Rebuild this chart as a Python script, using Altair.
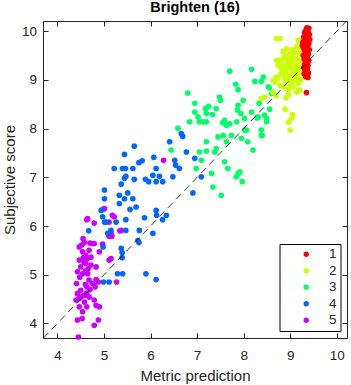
import altair as alt
import pandas as pd

# ---- data (Metric prediction, Subjective score) ----
group1 = [(9.36,10.07),(9.40,10.06),(9.34,10.03),(9.38,10.00),(9.31,9.97),(9.37,9.95),(9.41,9.93),
          (9.33,9.92),(9.36,9.90),(9.29,9.88),(9.39,9.87),(9.35,9.85),(9.42,9.83),(9.30,9.82),
          (9.33,9.80),(9.37,9.78),(9.27,9.77),(9.40,9.75),(9.32,9.74),(9.36,9.72),(9.26,9.70),
          (9.38,9.68),(9.34,9.66),(9.29,9.65),(9.41,9.62),(9.31,9.60),(9.36,9.58),(9.33,9.55),
          (9.39,9.53),(9.28,9.50),(9.35,9.48),(9.37,9.45),(9.30,9.43),(9.40,9.40),(9.33,9.38),
          (9.36,9.35),(9.31,9.32),(9.38,9.30),(9.34,9.27),(9.29,9.25),(9.37,9.22),(9.32,9.20),
          (9.35,9.17),(9.39,9.14),(9.30,9.12),(9.36,9.10),(9.33,9.07),(9.38,9.05),(9.35,8.74)]

group2 = [(8.71,9.85),(8.78,9.85),(9.17,9.82),(9.20,9.78),(9.14,9.68),(8.92,9.64),(9.05,9.62),
          (8.85,9.58),(9.00,9.54),(9.10,9.56),(8.89,9.47),(9.06,9.47),(8.95,9.50),(8.78,9.40),
          (8.96,9.40),(9.14,9.44),(8.71,9.40),(8.85,9.43),(9.05,9.38),(8.74,9.30),(8.85,9.30),
          (9.03,9.34),(9.17,9.30),(8.94,9.32),(9.22,9.40),(8.92,9.23),(9.06,9.20),(8.82,9.22),
          (9.15,9.20),(8.81,9.13),(9.00,9.10),(9.14,9.06),(8.90,9.16),(8.71,9.06),(8.89,8.99),
          (9.03,8.96),(9.17,8.93),(8.97,9.03),(8.67,8.96),(8.74,9.03),(8.63,8.99),(8.78,8.89),
          (9.06,8.86),(8.85,8.86),(9.00,8.87),(9.17,8.79),(8.96,8.79),(8.38,8.62),(8.45,8.65),
          (8.63,8.75),(8.70,8.67),(8.91,8.63),(8.96,8.69),(9.14,8.75),(9.21,8.79),(8.89,8.40),
          (9.05,8.29),(9.03,8.21),(9.00,7.97),(8.96,8.13),(9.22,9.55),(9.25,9.65),(9.20,9.15),
          (9.23,9.00),(9.10,9.28),(8.99,9.26),(9.12,9.00),(8.88,9.08),(9.08,9.12)]

group3 = [(7.70,9.18),(8.17,9.22),(8.24,8.97),(8.42,9.06),(8.38,8.97),(7.83,8.91),(7.88,8.80),
          (6.80,8.73),(7.48,8.65),(7.50,8.58),(7.99,8.58),(6.95,8.52),(7.88,8.48),(8.33,8.52),
          (8.55,8.84),(8.56,8.40),(7.18,8.41),(7.25,8.46),(7.41,8.41),(7.20,8.31),(7.33,8.29),
          (6.95,8.34),(7.02,8.24),(7.87,8.38),(7.94,8.31),(8.17,8.34),(8.02,8.21),(8.31,8.24),
          (8.49,8.21),(8.45,8.28),(8.29,8.22),(7.13,8.14),(7.59,8.17),(7.63,8.07),(6.59,8.01),
          (6.84,8.14),(7.05,8.14),(7.20,8.14),(7.55,8.12),(7.70,8.10),(7.85,8.14),(8.02,7.97),
          (8.49,8.14),(8.38,7.97),(8.40,7.86),(6.44,7.56),(7.05,7.52),(7.20,7.54),(7.20,7.73),
          (7.38,7.52),(7.41,7.59),(7.45,7.83),(7.56,7.86),(7.63,7.73),(7.74,7.86),(7.95,7.80),
          (8.09,7.73),(8.20,7.56),(8.38,7.86),(7.09,7.35),(6.98,7.18),(7.59,7.32),(7.66,7.18),
          (7.31,7.08),(7.34,6.80),(7.52,6.63),(7.88,7.08),(7.84,7.01),(7.97,6.91),(7.92,7.11),
          (8.06,7.97),(8.53,8.86),(8.60,8.72)]

group4 = [(6.66,7.90),(6.69,7.84),(6.41,7.73),(5.65,7.64),(5.44,7.47),(6.77,7.52),(6.07,7.41),
          (5.82,7.34),(5.75,7.30),(5.22,7.18),(5.40,7.18),(5.46,7.18),(5.62,7.18),(6.52,7.35),
          (6.54,7.25),(6.62,7.18),(6.95,7.39),(6.12,7.18),(6.05,7.04),(6.19,7.02),(5.89,6.96),
          (5.96,6.91),(6.12,6.91),(6.26,6.91),(6.48,7.01),(7.09,7.01),(5.47,7.02),(5.44,6.98),
          (5.65,6.96),(5.37,6.86),(5.01,6.74),(5.01,6.56),(5.33,6.63),(5.44,6.56),(5.51,6.68),
          (5.62,6.56),(5.33,6.46),(5.69,6.39),(5.56,6.34),(6.12,6.32),(6.13,6.22),(6.34,6.22),
          (6.26,6.13),(5.87,6.17),(5.47,6.13),(4.94,6.32),(4.97,6.19),(5.01,6.08),(5.05,6.08),
          (5.26,6.08),(4.67,5.90),(5.08,5.85),(5.15,5.91),(5.47,5.91),(5.76,5.91),(6.05,5.85),
          (6.91,6.68),(5.37,5.54),(5.39,5.45),(5.39,5.35),(5.75,5.66),(5.73,5.70),(4.98,5.57),
          (5.29,5.02),(5.40,5.02),(5.90,5.02),(6.12,4.90),(4.99,4.85),(5.11,4.85)]

group5 = [(4.63,6.13),(4.98,6.34),(5.22,6.19),(5.11,6.08),(4.79,6.06),(4.65,6.15),(5.37,5.91),
          (5.15,5.85),(5.11,5.79),(5.17,5.79),(4.55,5.74),(4.52,5.61),(4.47,5.57),(4.70,5.65),
          (4.79,5.64),(4.97,5.63),(4.75,5.64),(4.58,5.66),(4.54,5.47),(4.61,5.40),(4.68,5.50),
          (4.90,5.47),(5.15,5.33),(5.11,5.30),(4.47,5.30),(4.56,5.35),(4.64,5.33),(4.72,5.36),
          (4.50,5.16),(4.61,5.23),(4.72,5.20),(4.83,5.16),(4.57,5.25),(4.66,5.12),(4.43,5.06),
          (4.54,5.02),(4.65,5.02),(4.60,5.08),(4.48,4.95),(4.68,4.89),(4.83,4.90),(4.88,4.85),
          (4.75,4.82),(4.41,4.82),(4.60,4.80),(4.81,4.75),(4.63,4.75),(4.70,4.70),(4.50,4.68),
          (4.43,4.61),(4.58,4.58),(4.68,4.54),(4.47,4.51),(4.40,4.48),(4.58,4.44),(4.79,4.48),
          (4.52,4.55),(4.63,4.62),(4.83,4.37),(4.90,4.34),(4.63,4.34),(4.47,4.34),(4.54,4.24),
          (4.53,4.10),(4.43,4.07),(4.88,4.07),(4.79,3.96),(4.45,3.72),(5.27,4.85),(6.28,7.35),
          (5.34,5.90),(5.18,6.22),(5.01,6.36)]

group_labels = ["1", "2", "3", "4", "5"]
group_colors = ["#ff0000", "#ccff00", "#00ff66", "#0066ff", "#cc00ff"]
x_ticks = [4, 5, 6, 7, 8, 9, 10]
y_ticks = [4, 5, 6, 7, 8, 9, 10]
x_domain = [3.69, 10.22]
y_domain = [3.70, 10.21]
diag_values = [3.70, 10.21]

rows = []
for lab, pts in [("5", group5), ("4", group4), ("3", group3), ("2", group2), ("1", group1)]:
    for px, py in pts:
        rows.append({"pred": px, "score": py, "group": lab})
df = pd.DataFrame(rows)
diag_df = pd.DataFrame({"x": diag_values, "y": diag_values})

FONT = "Liberation Sans"
AX = "#262626"
xs = alt.Scale(domain=x_domain, nice=False, zero=False)
ys = alt.Scale(domain=y_domain, nice=False, zero=False)

common = dict(grid=False, domainColor=AX, tickColor=AX, domainWidth=1, tickWidth=1,
              tickSize=alt.ExprRef(expr="-5"))

points = alt.Chart(df).mark_circle(size=32, opacity=1).encode(
    x=alt.X("pred:Q", scale=xs, axis=alt.Axis(
        orient="bottom", values=x_ticks, title="Metric prediction", labelFontSize=13.5,
        labelColor=AX, labelFont=FONT, labelPadding=15, titleFont=FONT, titleFontSize=15,
        titleFontWeight="normal", titleColor=AX, titleY=37, titleBaseline="middle", **common)),
    y=alt.Y("score:Q", scale=ys, axis=alt.Axis(
        orient="left", values=y_ticks, title="Subjective score", labelFontSize=13.5,
        labelColor=AX, labelFont=FONT, labelPadding=11.5, titleFont=FONT, titleFontSize=15,
        titleFontWeight="normal", titleColor=AX, titleX=-34, titleY=158.5,
        titleBaseline="middle", titleAngle=270, **common)),
    color=alt.Color("group:N", scale=alt.Scale(domain=group_labels, range=group_colors),
                    legend=alt.Legend(orient="none", legendX=236.5, legendY=223, title=None,
                                      direction="vertical", padding=3.5, symbolOffset=16.5,
                                      labelOffset=16, rowPadding=1.5, symbolType="circle",
                                      symbolSize=28, symbolStrokeWidth=0, labelFontSize=13.5,
                                      labelFont=FONT, labelColor=AX, strokeColor="#000000",
                                      fillColor="#ffffff", cornerRadius=0)),
)

diag = alt.Chart(diag_df).mark_line(color="#000000", strokeWidth=0.8, strokeDash=[7, 5],
                                    clip=True).encode(
    x=alt.X("x:Q", scale=xs, axis=alt.Axis(orient="top", values=x_ticks, labels=False,
                                           title=None, **common)),
    y=alt.Y("y:Q", scale=ys, axis=alt.Axis(orient="right", values=y_ticks, labels=False,
                                           title=None, **common)),
)

chart = alt.layer(points, diag).resolve_axis(x="independent", y="independent").properties(
    width=304, height=317,
    autosize="none",
    padding={"left": 43, "top": 21, "right": 4, "bottom": 47},
    title=alt.TitleParams("Brighten (16)", font=FONT, fontSize=14.5, fontWeight="bold",
                          color="#000000", anchor="middle", offset=5),
).configure_view(stroke=None)

chart.save("out.html", embed_options={"renderer": "svg", "actions": False})
